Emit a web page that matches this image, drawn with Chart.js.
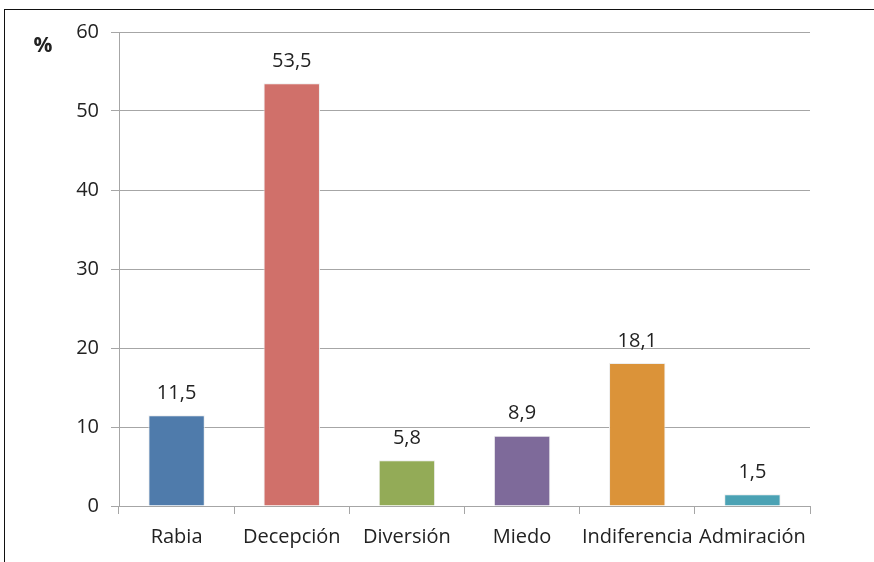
<!DOCTYPE html>
<html>
<head>
<meta charset="utf-8">
<script src="https://cdn.jsdelivr.net/npm/chart.js@4/dist/chart.umd.min.js"></script>
<style>
    html, body { margin: 0; padding: 0; background: #fff; }
    #wrap { position: relative; width: 874px; height: 562px; }
    #frame { position: absolute; left: 4px; top: 9px; right: 0; bottom: 0;
             border-top: 1.5px solid #111; border-left: 1.5px solid #111; pointer-events: none; }
</style>
</head>
<body>
<div id="wrap">
    <canvas id="chart" width="874" height="562"></canvas>
    <div id="frame"></div>
</div>
<script>
const categories = ['Rabia', 'Decepción', 'Diversión', 'Miedo', 'Indiferencia', 'Admiración'];
const values = [11.5, 53.5, 5.8, 8.9, 18.1, 1.5];
const barColors = ['#4f7bab', '#d0706a', '#93ab57', '#7e6a9a', '#db9339', '#4ba2b4'];
const yTicks = [0, 10, 20, 30, 40, 50, 60];

const fontName = '"Open Sans", "Noto Sans", sans-serif';

// labels over the bars, with a decimal comma
const valueLabels = {
    id: 'valueLabels',
    afterDatasetsDraw(chart) {
        const ctx = chart.ctx;
        const meta = chart.getDatasetMeta(0);
        ctx.save();
        ctx.font = '20px ' + fontName;
        ctx.fillStyle = '#222';
        ctx.textAlign = 'center';
        ctx.textBaseline = 'middle';
        meta.data.forEach((bar, i) => {
            ctx.fillText(values[i].toFixed(1).replace('.', ','), bar.x, bar.y - 22);
        });
        // unit label
        ctx.font = 'bold 21px ' + fontName;
        ctx.fillText('%', 43, 46);
        ctx.restore();
    }
};

new Chart(document.querySelector('#chart'), {
    type: 'bar',
    data: {
        labels: categories,
        datasets: [{
            data: values,
            backgroundColor: barColors,
            borderColor: '#eeeeee',
            borderWidth: 1,
            barPercentage: 0.49,
            categoryPercentage: 1
        }]
    },
    options: {
        responsive: false,
        animation: false,
        layout: { padding: { left: 0, right: 64, top: 32, bottom: 0 } },
        plugins: { legend: { display: false }, tooltip: { enabled: false } },
        scales: {
            x: {
                grid: { drawOnChartArea: false, drawTicks: true, tickLength: 8, color: '#a6a6a6' },
                border: { color: '#a6a6a6' },
                ticks: { color: '#222', font: { family: fontName, size: 20 }, padding: 11, maxRotation: 0 },
                afterFit: s => { s.height = 56; }
            },
            y: {
                min: 0,
                max: 60,
                afterBuildTicks: s => { s.ticks = yTicks.map(v => ({ value: v })); },
                grid: { color: '#a6a6a6', tickLength: 8 },
                border: { color: '#a6a6a6' },
                ticks: { color: '#222', font: { family: fontName, size: 20 }, padding: 12 },
                afterFit: s => { s.width = 119; }
            }
        }
    },
    plugins: [valueLabels]
});
</script>
</body>
</html>
